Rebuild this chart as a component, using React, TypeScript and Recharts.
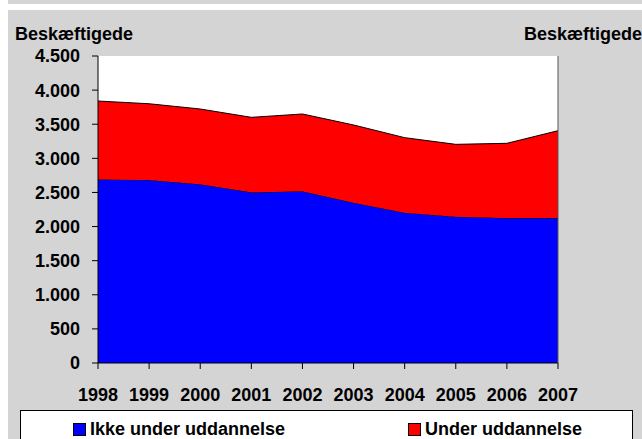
import React from "react";
import { AreaChart, Area, XAxis, YAxis, CartesianGrid } from "recharts";

const years = ["1998", "1999", "2000", "2001", "2002", "2003", "2004", "2005", "2006", "2007"];
const ikkeUnder = [2690, 2683, 2620, 2502, 2517, 2350, 2203, 2145, 2125, 2125];
const under = [1150, 1117, 1103, 1099, 1133, 1139, 1100, 1060, 1095, 1280];
const yTicks = [0, 500, 1000, 1500, 2000, 2500, 3000, 3500, 4000, 4500];
const seriesNames = ["Ikke under uddannelse", "Under uddannelse"];
const seriesColors = ["#0000FF", "#FF0000"];
const axisTitle = "Beskæftigede";

const data = years.map((y, i) => ({ year: y, ikke: ikkeUnder[i], under: under[i] }));

const fmt = (v: number) => {
  const s = String(v);
  return s.length > 3 ? s.slice(0, s.length - 3) + "." + s.slice(-3) : s;
};

const FONT = "'Liberation Sans', Arial, sans-serif";
const tickStyle = { fontFamily: FONT, fontSize: 18, fontWeight: 700, fill: "#000" };

export default function App() {
  return (
    <div style={{ position: "absolute", left: 0, top: 0, width: 642, height: 439, background: "#fff", overflow: "hidden", fontFamily: FONT }}>
      <div style={{ position: "absolute", left: 8, top: 0, width: 634, height: 4, background: "#d4d4d4" }} />
      <div style={{ position: "absolute", left: 8, top: 10, width: 634, height: 429, background: "#d4d4d4" }} />
      <div style={{ position: "absolute", left: 0, top: 0 }}>
        <AreaChart width={642} height={439} data={data} margin={{ top: 56, right: 0, bottom: 0, left: 0 }}>
          <CartesianGrid fill="#ffffff" stroke="none" yAxisId="left" />
          <XAxis
            dataKey="year"
            height={76}
            tickSize={6}
            tickMargin={19}
            interval={0}
            axisLine={{ stroke: "#000" }}
            tickLine={{ stroke: "#000" }}
            tick={tickStyle}
          />
          <YAxis
            yAxisId="left"
            orientation="left"
            width={98}
            domain={[0, 4500]}
            ticks={yTicks}
            tickFormatter={fmt}
            tickSize={6}
            tickMargin={12}
            axisLine={{ stroke: "#000" }}
            tickLine={{ stroke: "#000" }}
            tick={tickStyle}
          />
          <YAxis
            yAxisId="right"
            orientation="right"
            width={84}
            domain={[0, 4500]}
            ticks={yTicks}
            tickFormatter={fmt}
            tickSize={6}
            tickMargin={11}
            axisLine={{ stroke: "#555" }}
            tickLine={{ stroke: "#555" }}
            tick={tickStyle}
          />
          <Area
            yAxisId="left"
            type="linear"
            dataKey="ikke"
            name={seriesNames[0]}
            stackId="1"
            fill={seriesColors[0]}
            fillOpacity={1}
            stroke="#000"
            strokeWidth={1}
            isAnimationActive={false}
          />
          <Area
            yAxisId="left"
            type="linear"
            dataKey="under"
            name={seriesNames[1]}
            stackId="1"
            fill={seriesColors[1]}
            fillOpacity={1}
            stroke="#000"
            strokeWidth={1}
            isAnimationActive={false}
          />
        </AreaChart>
      </div>
      <div style={{ position: "absolute", left: 15, top: 25, fontSize: 18, lineHeight: "18px", fontWeight: 700, color: "#000", whiteSpace: "nowrap" }}>
        {axisTitle}
      </div>
      <div style={{ position: "absolute", right: 0, top: 25, fontSize: 18, lineHeight: "18px", fontWeight: 700, color: "#000", whiteSpace: "nowrap" }}>
        {axisTitle}
      </div>
      <div style={{ position: "absolute", left: 20, top: 410, width: 611, height: 40, background: "#fff", border: "1px solid #000" }}>
        {seriesNames.map((n, i) => (
          <div key={n} style={{ position: "absolute", left: i === 0 ? 52 : 387, top: 9, display: "flex", alignItems: "center", whiteSpace: "nowrap" }}>
            <div style={{ width: 11, height: 11, background: seriesColors[i], border: "1px solid #000", marginRight: 4 }} />
            <span style={{ fontSize: 18, lineHeight: "18px", fontWeight: 700, color: "#000" }}>{n}</span>
          </div>
        ))}
      </div>
    </div>
  );
}
